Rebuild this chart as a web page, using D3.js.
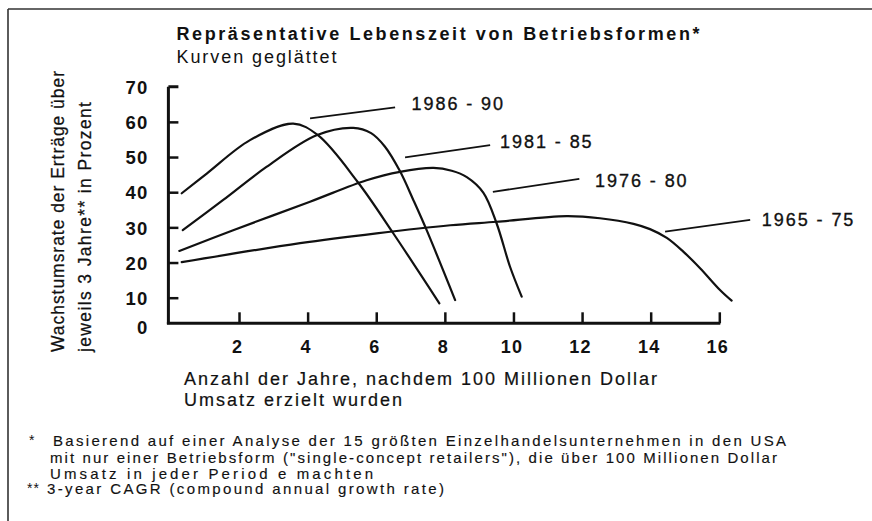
<!DOCTYPE html>
<html>
<head>
<meta charset="utf-8">
<script src="https://cdn.jsdelivr.net/npm/d3@7"></script>
<style>
  html, body { margin: 0; padding: 0; background: #fff; }
  svg { display: block; }
  text { font-family: "Liberation Sans", Arial, Helvetica, sans-serif; fill: #111; }
</style>
</head>
<body>
<svg id="chart" width="872" height="521"></svg>
<script>
// ---------- data ----------
const periods = ["1986 - 90", "1981 - 85", "1976 - 80", "1965 - 75"];

const years8690  = [0.33, 1.06, 2.32, 3.58, 4.30, 5.46, 6.49, 7.84];
const growth8690 = [39.7, 45.3, 54.8, 59.5, 56.2, 42.9, 28.4, 7.9];

const years8185  = [0.36, 1.54, 2.80, 4.26, 5.33, 5.85, 6.25, 6.69, 7.08, 7.47, 8.30];
const growth8185 = [29.2, 37.8, 47.2, 56.2, 58.3, 56.8, 53.0, 46.0, 37.8, 29.2, 9.1];

const years7680  = [0.26, 1.83, 4.07, 5.72, 6.69, 7.67, 8.20, 8.64, 9.12, 9.51, 9.90, 10.24];
const growth7680 = [23.3, 29.2, 37.3, 43.4, 45.8, 46.9, 46.1, 44.3, 39.9, 31.1, 18.8, 10.3];

const years6575  = [0.33, 3.78, 6.01, 8.16, 9.51, 11.55, 12.52, 13.50, 13.98, 14.47, 14.95, 15.44, 16.02, 16.36];
const growth6575 = [20.1, 25.5, 28.3, 30.6, 31.6, 33.2, 32.6, 31.0, 29.5, 27.0, 23.1, 18.4, 12.2, 8.9];

// leader lines (data units): from curve to label
const leaderStartX = [4.07, 6.84, 9.40, 14.42];
const leaderStartY = [61.0, 49.9, 40.1, 28.8];
const leaderEndX   = [6.55, 9.32, 11.92, 16.90];
const leaderEndY   = [64.1, 53.4, 43.8, 32.1];
const labelX       = [7.03, 9.61, 12.38, 17.24];
const labelY       = [65.2, 54.3, 43.4, 32.3];

const xTicks = [2, 4, 6, 8, 10, 12, 14, 16];
const yTicks = [0, 10, 20, 30, 40, 50, 60, 70];

const title = "Repräsentative Lebenszeit von Betriebsformen*";
const subtitle = "Kurven geglättet";
const yLabel = ["Wachstumsrate der Erträge über", "jeweils 3 Jahre** in Prozent"];
const xLabel = ["Anzahl der Jahre, nachdem 100 Millionen Dollar", "Umsatz erzielt wurden"];
const footMarks = ["*", "", "", "**"];
const footLines = [
  "Basierend auf einer Analyse der 15 größten Einzelhandelsunternehmen in den USA",
  "mit nur einer Betriebsform (\"single-concept retailers\"), die über 100 Millionen Dollar",
  "Umsatz in jeder Period e machten",
  "3-year CAGR (compound annual growth rate)"
];

// ---------- layout ----------
const svg = d3.select("#chart");
const ink = "#111";

const x = d3.scaleLinear().domain([0, 16]).range([170.4, 719.3]);
// axis in the original is compressed between 0 and 10
const y = d3.scaleLinear().domain([0, 10, 70]).range([324.3, 297.7, 86.7]);

// frame
svg.append("line").attr("x1", 8).attr("y1", 9).attr("x2", 872).attr("y2", 9)
  .attr("stroke", "#333").attr("stroke-width", 1.6);
svg.append("line").attr("x1", 8).attr("y1", 9).attr("x2", 8).attr("y2", 521)
  .attr("stroke", "#333").attr("stroke-width", 1.6);

function naturalLen(sel) { return sel.node().getComputedTextLength(); }

// title
svg.append("text").attr("x", 176.5).attr("y", 39.5)
  .attr("font-size", 18).attr("font-weight", "bold").text(title)
  .attr("textLength", 523).attr("lengthAdjust", "spacing");
svg.append("text").attr("x", 176.5).attr("y", 63)
  .attr("font-size", 18).text(subtitle)
  .attr("textLength", 160).attr("lengthAdjust", "spacing");

// axes
const axisY = d3.axisLeft(y).tickValues(yTicks).tickSizeInner(-10).tickSizeOuter(0).tickPadding(20);
const gy = svg.append("g").attr("transform", `translate(${x(0) - 2},0)`).call(axisY);
gy.select(".domain").attr("stroke", ink).attr("stroke-width", 3)
  .attr("d", `M0,${y(70)}H10M0,${y(70)}V${y(0)}`).attr("fill", "none");
gy.selectAll(".tick line").attr("stroke", ink).attr("stroke-width", 2.5)
  .filter(d => d === 0 || d === 70).remove();
gy.selectAll(".tick text").attr("font-size", 18.5).attr("font-weight", "bold")
  .attr("fill", ink).attr("font-family", "Liberation Sans, Arial, sans-serif")
  .attr("letter-spacing", 1.2).attr("dy", "0.36em");
gy.selectAll(".tick").filter(d => d === 0).select("text").attr("dy", "0.48em");

const axisX = d3.axisBottom(x).tickValues(xTicks).tickSizeInner(-11).tickSizeOuter(0).tickPadding(17);
const gx = svg.append("g").attr("transform", `translate(0,${y(0) - 1})`).call(axisX);
gx.select(".domain").attr("stroke", ink).attr("stroke-width", 3)
  .attr("d", `M${x(0) - 3.5},0H${x(16) + 1}`).attr("fill", "none");
gx.selectAll(".tick line").attr("stroke", ink).attr("stroke-width", 2.5);
gx.selectAll(".tick text").attr("font-size", 18).attr("font-weight", "bold")
  .attr("fill", ink).attr("font-family", "Liberation Sans, Arial, sans-serif")
  .attr("letter-spacing", 1.2).attr("dx", "-2");

// y-axis label
const yl = svg.append("g");
yl.append("text").attr("transform", "translate(64,352) rotate(-90)")
  .attr("font-size", 17.5).attr("stroke", ink).attr("stroke-width", 0.25).text(yLabel[0])
  .attr("textLength", 281).attr("lengthAdjust", "spacing");
yl.append("text").attr("transform", "translate(90.5,352) rotate(-90)")
  .attr("font-size", 17.5).attr("stroke", ink).attr("stroke-width", 0.25).text(yLabel[1])
  .attr("textLength", 250).attr("lengthAdjust", "spacing");

// x-axis label
const xl1 = svg.append("text").attr("x", 184).attr("y", 384.5).attr("font-size", 18)
  .attr("stroke", ink).attr("stroke-width", 0.2).text(xLabel[0]);
const n1 = naturalLen(xl1);
const sX = (473 - n1) / (xLabel[0].length - 1);
xl1.attr("textLength", 473).attr("lengthAdjust", "spacing");
const xl2 = svg.append("text").attr("x", 184).attr("y", 405.5).attr("font-size", 18)
  .attr("stroke", ink).attr("stroke-width", 0.2).text(xLabel[1]);
const n2 = naturalLen(xl2);
xl2.attr("textLength", n2 + sX * (xLabel[1].length - 1)).attr("lengthAdjust", "spacing");

// curves
const series = [
  { name: periods[0], xs: years8690, ys: growth8690 },
  { name: periods[1], xs: years8185, ys: growth8185 },
  { name: periods[2], xs: years7680, ys: growth7680 },
  { name: periods[3], xs: years6575, ys: growth6575 }
];
const line = d3.line().x(d => x(d[0])).y(d => y(d[1])).curve(d3.curveCatmullRom.alpha(0.5));
svg.append("g").selectAll("path").data(series).join("path")
  .attr("d", s => line(s.xs.map((v, i) => [v, s.ys[i]])))
  .attr("fill", "none").attr("stroke", ink).attr("stroke-width", 2.2)
  .attr("stroke-linecap", "round");

// leader lines + labels
const lg = svg.append("g");
periods.forEach((p, i) => {
  lg.append("line")
    .attr("x1", x(leaderStartX[i])).attr("y1", y(leaderStartY[i]))
    .attr("x2", x(leaderEndX[i])).attr("y2", y(leaderEndY[i]))
    .attr("stroke", ink).attr("stroke-width", 1.8);
  lg.append("text").attr("x", x(labelX[i])).attr("y", y(labelY[i]))
    .attr("dy", "0.36em").attr("font-size", 18)
    .attr("stroke", ink).attr("stroke-width", 0.35)
    .text(p).attr("textLength", 91.5).attr("lengthAdjust", "spacing");
});

// footnotes
const footY = [446, 463, 478.5, 494];
const footX = [53, 50, 50, 47];
const footW = [733, 727, 323, 397];
const fg = svg.append("g");
footLines.forEach((txt, i) => {
  fg.append("text").attr("x", footX[i]).attr("y", footY[i]).attr("font-size", 15)
    .attr("stroke", ink).attr("stroke-width", 0.15).text(txt)
    .attr("textLength", footW[i]).attr("lengthAdjust", "spacing");
  if (footMarks[i]) {
    fg.append("text").attr("x", i === 0 ? 29 : 27).attr("y", footY[i] - 1)
      .attr("font-size", 14).attr("letter-spacing", 1).text(footMarks[i]);
  }
});
</script>
</body>
</html>
